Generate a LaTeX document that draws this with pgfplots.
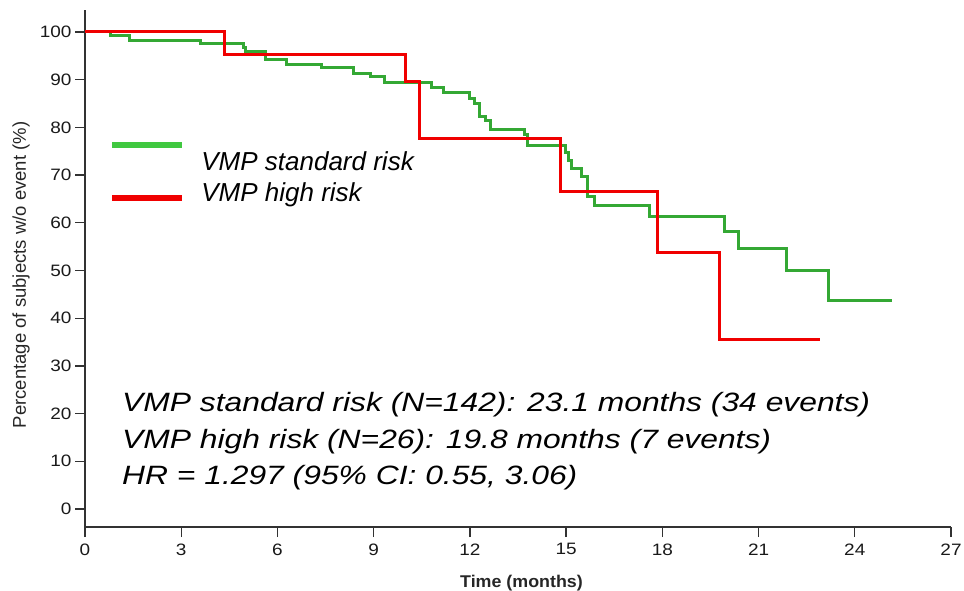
\documentclass[border=0pt]{standalone}
\usepackage{fontspec}
\setmainfont{Liberation Sans}
\newfontfamily\wide[FakeStretch=1.15]{Liberation Sans}
\newfontfamily\annofont[FakeStretch=1.2]{Liberation Sans}
\newfontfamily\xlabfont[FakeStretch=1.05]{Liberation Sans}
\usepackage{pgfplots}
\pgfplotsset{compat=1.18}
\definecolor{kmgreen}{RGB}{52,168,52}
\definecolor{leggreen}{RGB}{64,200,64}
\definecolor{kmred}{RGB}{240,0,0}
\definecolor{axisgray}{RGB}{50,50,50}
\begin{document}
\begin{tikzpicture}
\begin{axis}[
  at={(85pt,63pt)}, anchor=south west,
  scale only axis, width=866pt, height=517pt,
  xmin=0, xmax=27, ymin=-3.77, ymax=104.6,
  axis x line=bottom, axis y line=left,
  axis line style={-, line width=1.3pt, color=axisgray},
  xtick={0,3,...,27}, ytick={0,10,...,100},
  tick align=outside, major tick length=10pt,
  tick style={line width=1.3pt, color=axisgray},
  /pgf/number format/assume math mode=true,
  ticklabel style={font=\wide\fontsize{16.5}{18}\selectfont, text=black!90},
  xticklabel style={yshift=-3pt},
  clip=false,
  legend cell align=left,
  legend style={at={(23.7pt,385.25pt)}, anchor=north west, draw=none, fill=none,
    inner sep=0pt, column sep=16pt, row sep=0pt,
    font=\fontsize{26}{31}\selectfont\itshape,
    nodes={inner sep=0pt, text height=19pt, text depth=12.7pt}},
]
\addplot[const plot, color=kmgreen, line width=3pt,
  legend image code/.code={\draw[leggreen, line width=6.5pt] (0pt,21.85pt) -- (70pt,21.85pt);}]
  table {
0 100
0.80 99.2
1.40 98.2
3.61 97.5
4.94 96.7
5.01 95.9
5.64 94.3
6.29 93.1
7.38 92.5
8.37 91.3
8.89 90.6
9.33 89.4
10.81 88.4
11.19 87.3
11.98 86.1
12.13 85.1
12.30 82.2
12.50 81.5
12.63 79.6
13.69 78.4
13.79 76.3
14.98 74.8
15.08 73.1
15.17 71.4
15.48 69.6
15.68 65.6
15.88 63.7
17.60 61.4
19.94 58.1
20.39 54.6
21.88 50.1
23.18 43.8
25.15 43.8
};
\addlegendentry{VMP standard risk}
\addplot[const plot, color=kmred, line width=3pt,
  legend image code/.code={\draw[kmred, line width=6.5pt] (0pt,0.85pt) -- (70pt,0.85pt);}]
  table {
0 100
4.35 95.3
9.98 89.7
10.43 77.7
14.81 66.5
17.86 53.8
19.78 35.6
22.92 35.6
};
\addlegendentry{VMP high risk}
\end{axis}
\node[anchor=base west, inner sep=0pt, font=\annofont\itshape\fontsize{26.5}{30}\selectfont] at (122pt,178.3pt) {VMP standard risk (N=142): 23.1 months (34 events)};
\node[anchor=base west, inner sep=0pt, font=\annofont\itshape\fontsize{26.5}{30}\selectfont] at (122pt,142pt) {VMP high risk (N=26): 19.8 months (7 events)};
\node[anchor=base west, inner sep=0pt, font=\annofont\itshape\fontsize{26.5}{30}\selectfont] at (122pt,106pt) {HR = 1.297 (95\% CI: 0.55, 3.06)};
\node[rotate=90, inner sep=0pt, font=\fontsize{18.5}{20}\selectfont, text=black!85] at (21pt,315pt) {Percentage of subjects w/o event (\%)};
\node[anchor=base, inner sep=0pt, font=\xlabfont\bfseries\fontsize{17}{19}\selectfont, text=black!85] at (521.5pt,2.7pt) {Time (months)};
\pgfresetboundingbox
\useasboundingbox (0,0) rectangle (964pt,590pt);
\end{tikzpicture}
\end{document}
